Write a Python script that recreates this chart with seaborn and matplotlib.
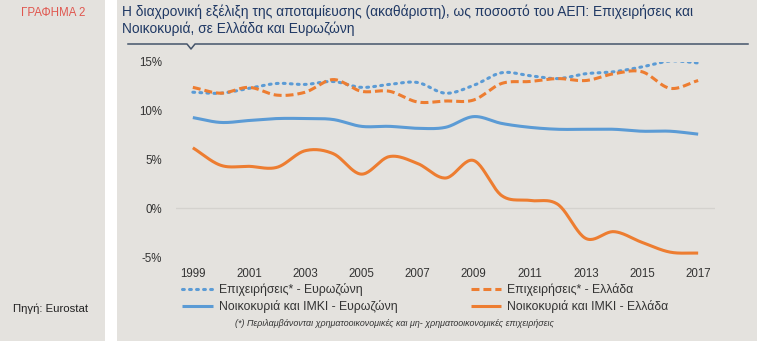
import numpy as np
import pandas as pd
import matplotlib
matplotlib.use("Agg")
import matplotlib.pyplot as plt
from matplotlib.patches import Rectangle
from matplotlib.lines import Line2D
import seaborn as sns

# Gross saving as % of GDP, 1999-2017
years = list(range(1999, 2018))
firms_ez = [11.9, 11.8, 12.3, 12.8, 12.7, 13.0, 12.4, 12.7, 12.9, 11.8,
            12.6, 13.9, 13.6, 13.3, 13.8, 14.0, 14.5, 15.1, 14.9]
firms_gr = [12.4, 11.8, 12.4, 11.6, 11.9, 13.2, 12.0, 12.0, 10.9, 11.0,
            11.1, 12.8, 13.0, 13.3, 13.1, 13.8, 14.0, 12.3, 13.1]
hh_ez = [9.3, 8.8, 9.0, 9.2, 9.2, 9.1, 8.4, 8.4, 8.2, 8.3,
         9.4, 8.7, 8.3, 8.1, 8.1, 8.1, 7.9, 7.9, 7.6]
hh_gr = [6.2, 4.4, 4.3, 4.2, 5.9, 5.6, 3.5, 5.3, 4.6, 3.1,
         4.9, 1.3, 0.8, 0.4, -3.1, -2.4, -3.5, -4.5, -4.6]

labels = ["Επιχειρήσεις* - Ευρωζώνη", "Νοικοκυριά και ΙΜΚΙ - Ευρωζώνη",
          "Επιχειρήσεις* - Ελλάδα", "Νοικοκυριά και ΙΜΚΙ - Ελλάδα"]
yticks = [-5, 0, 5, 10, 15]
xticks = list(range(1999, 2018, 2))

BLUE = "#5b9bd5"
ORANGE = "#ed7d31"
BG = "#e4e2de"
NAVY = "#1f3864"


def smooth(x, y, steps=24):
    """Catmull-Rom curve through the points (smoothed line rendering)."""
    x = np.asarray(x, float)
    y = np.asarray(y, float)
    px = np.concatenate([[2 * x[0] - x[1]], x, [2 * x[-1] - x[-2]]])
    py = np.concatenate([[2 * y[0] - y[1]], y, [2 * y[-1] - y[-2]]])
    xs, ys = [], []
    t = np.linspace(0, 1, steps, endpoint=False)
    for i in range(1, len(px) - 2):
        for arr, out in ((px, xs), (py, ys)):
            p0, p1, p2, p3 = arr[i - 1], arr[i], arr[i + 1], arr[i + 2]
            out.extend(0.5 * ((2 * p1) + (-p0 + p2) * t
                              + (2 * p0 - 5 * p1 + 4 * p2 - p3) * t ** 2
                              + (-p0 + 3 * p1 - 3 * p2 + p3) * t ** 3))
    xs.append(x[-1])
    ys.append(y[-1])
    return np.array(xs), np.array(ys)


plt.rcParams["font.family"] = ["Liberation Sans", "DejaVu Sans"]
fig = plt.figure(figsize=(7.57, 3.41), dpi=100)
fig.patch.set_facecolor("white")

W, H = 757.0, 341.0
# side panel and main panel backgrounds
fig.add_artist(Rectangle((0, 0), 105 / W, 1, transform=fig.transFigure,
                         facecolor=BG, edgecolor="none", zorder=0))
fig.add_artist(Rectangle((117 / W, 0), 1 - 117 / W, 1, transform=fig.transFigure,
                         facecolor=BG, edgecolor="none", zorder=0))

fig.text(53 / W, 1 - 13 / H, "ΓΡΑΦΗΜΑ 2", color="#e0574f", fontsize=8.3,
         ha="center", va="center")
fig.text(13 / W, 1 - 309 / H, "Πηγή: Eurostat", color="#222222", fontsize=8.2,
         ha="left", va="center")

fig.text(122 / W, 1 - 20 / H,
         "Η διαχρονική εξέλιξη της αποταμίευσης (ακαθάριστη), ως ποσοστό του ΑΕΠ: Επιχειρήσεις και\n"
         "Νοικοκυριά, σε Ελλάδα και Ευρωζώνη",
         color=NAVY, fontsize=9.9, ha="left", va="center", linespacing=1.25)

# rule under the title with a small notch
rx = np.array([128, 187, 191, 195, 748]) / W
ry = 1 - np.array([44, 44, 49, 44, 44]) / H
fig.add_artist(Line2D(rx, ry, transform=fig.transFigure, color="#44546a", lw=1.1))

ax = fig.add_axes([176 / W, 1 - 257 / H, (715 - 176) / W, (257 - 62) / H])
ax.set_facecolor("none")

series = [(firms_ez, BLUE, (0.6, 1.7), "round"),
          (hh_ez, BLUE, None, "butt"),
          (firms_gr, ORANGE, (2.6, 1.3), "butt"),
          (hh_gr, ORANGE, None, "butt")]
handles = []
for (vals, col, dash, cap), lab in zip(series, labels):
    sx, sy = smooth(years, vals)
    df = pd.DataFrame({"year": sx, "value": sy})
    n_before = len(ax.lines)
    sns.lineplot(data=df, x="year", y="value", color=col, lw=2.2, ax=ax,
                 sort=False, estimator=None, legend=False)
    line = ax.lines[n_before]
    if dash is not None:
        line.set_dashes(dash)
    line.set_dash_capstyle(cap)
    line.set_solid_capstyle("butt")
    line.set_label(lab)
    handles.append(line)
if ax.get_legend() is not None:
    ax.get_legend().remove()

ax.axhline(0, color="#d4d2ce", lw=0.9, zorder=0)
ax.set_xlim(1998.4, 2017.6)
ax.set_ylim(-5, 15)
ax.set_xticks(xticks)
ax.set_xticklabels([str(y) for y in xticks])
ax.set_yticks(yticks)
ax.set_yticklabels([f"{v}%" for v in yticks])
ax.set_xlabel("")
ax.set_ylabel("")
ax.tick_params(length=0, labelsize=8.3, colors="#333333", pad=10)
ax.tick_params(axis="x", pad=8)
for s in ax.spines.values():
    s.set_visible(False)
ax.grid(False)

leg = fig.legend(handles=handles, labels=labels, ncol=2, frameon=False,
                 fontsize=8.8, handlelength=2.5, handletextpad=0.5,
                 columnspacing=6.0, labelspacing=0.35, borderpad=0,
                 borderaxespad=0,
                 loc="upper left", bbox_to_anchor=(182 / W, 1 - 283 / H))
for t in leg.get_texts():
    t.set_color("#333333")

fig.text(235 / W, 1 - 323 / H,
         "(*) Περιλαμβάνονται χρηματοοικονομικές και μη- χρηματοοικονομικές επιχειρήσεις",
         fontsize=6.4, style="italic", color="#333333", ha="left", va="center")

fig.savefig("out.png", dpi=100, facecolor=fig.get_facecolor())
